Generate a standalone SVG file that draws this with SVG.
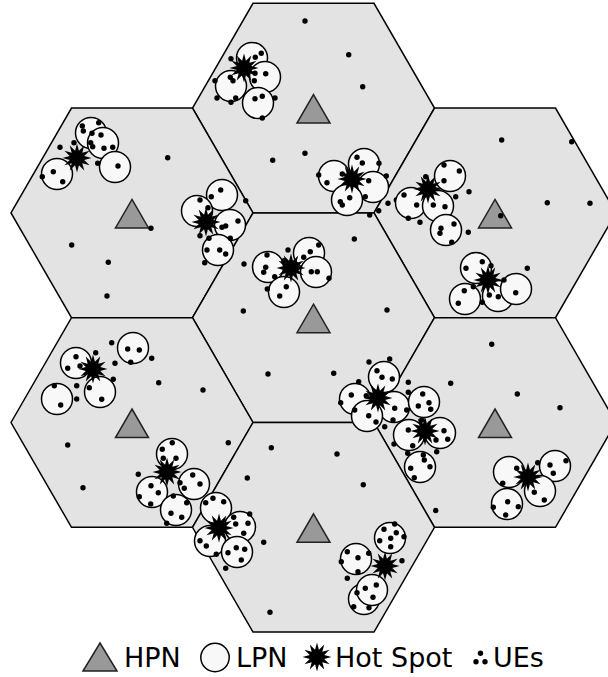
<svg xmlns="http://www.w3.org/2000/svg" xmlns:xlink="http://www.w3.org/1999/xlink" width="608" height="677" viewBox="0 0 608 677">
<style>
.hex{fill:#e3e3e3;stroke:#000;stroke-width:1.5}
.hpn{fill:#999;stroke:#222;stroke-width:1.5;stroke-linejoin:miter}
.lpn{fill:#f8f8f8;stroke:#000;stroke-width:1.5}
.ue{fill:#000}
.hs{fill:#000}
.lbl{font-family:"DejaVu Sans",sans-serif;font-size:27px;fill:#000}
</style>
<defs>
<path id="hexp" d="M-121,0 L-60.5,-104.8 L60.5,-104.8 L121,0 L60.5,104.8 L-60.5,104.8 Z"/>
<path id="tri" d="M0,-13.5 L16.5,15 L-16.5,15 Z"/>
<path id="star" d="M0,-14.5 L1.94,-7.24 L7.25,-12.56 L5.3,-5.3 L12.56,-7.25 L7.24,-1.94 L14.5,0 L7.24,1.94 L12.56,7.25 L5.3,5.3 L7.25,12.56 L1.94,7.24 L0,14.5 L-1.94,7.24 L-7.25,12.56 L-5.3,5.3 L-12.56,7.25 L-7.24,1.94 L-14.5,0 L-7.24,-1.94 L-12.56,-7.25 L-5.3,-5.3 L-7.25,-12.56 L-1.94,-7.24 Z"/>
</defs>

<g id="cells">
<g id="cell-top"><use href="#hexp" class="hex" x="313.5" y="108.1"/><use href="#tri" class="hpn" x="313.5" y="108.1"/></g>
<g id="cell-upper-left"><use href="#hexp" class="hex" x="132" y="212.9"/><use href="#tri" class="hpn" x="132" y="212.9"/></g>
<g id="cell-upper-right"><use href="#hexp" class="hex" x="495" y="212.9"/><use href="#tri" class="hpn" x="495" y="212.9"/></g>
<g id="cell-center"><use href="#hexp" class="hex" x="313.5" y="317.7"/><use href="#tri" class="hpn" x="313.5" y="317.7"/></g>
<g id="cell-lower-left"><use href="#hexp" class="hex" x="132" y="422.5"/><use href="#tri" class="hpn" x="132" y="422.5"/></g>
<g id="cell-lower-right"><use href="#hexp" class="hex" x="495" y="422.5"/><use href="#tri" class="hpn" x="495" y="422.5"/></g>
<g id="cell-bottom"><use href="#hexp" class="hex" x="313.5" y="527.3"/><use href="#tri" class="hpn" x="313.5" y="527.3"/></g>
</g>

<g id="hotspot-A">
<circle class="lpn" cx="252" cy="58" r="15.5"/><circle class="lpn" cx="231" cy="86" r="15.5"/><circle class="lpn" cx="265" cy="77" r="15.5"/><circle class="lpn" cx="258" cy="103" r="15.5"/>
<g class="ue"><circle cx="261.3" cy="53.3" r="2.7"/><circle cx="255.3" cy="57.3" r="2.7"/><circle cx="231" cy="58.7" r="2.7"/><circle cx="265.7" cy="73.7" r="2.7"/><circle cx="255" cy="73.3" r="2.7"/><circle cx="254.3" cy="80.7" r="2.7"/><circle cx="230.3" cy="77.3" r="2.7"/><circle cx="233" cy="80.7" r="2.7"/><circle cx="215" cy="80.7" r="2.7"/><circle cx="217" cy="98" r="2.7"/><circle cx="231" cy="102.3" r="2.7"/><circle cx="235.7" cy="98" r="2.7"/><circle cx="255" cy="98.7" r="2.7"/><circle cx="262.3" cy="96.3" r="2.7"/><circle cx="275" cy="98" r="2.7"/><circle cx="262.3" cy="118" r="2.7"/></g>
<use href="#star" class="hs" x="244" y="68"/>
</g>

<g id="hotspot-B">
<circle class="lpn" cx="334" cy="176" r="15.5"/><circle class="lpn" cx="364" cy="164" r="15.5"/><circle class="lpn" cx="373" cy="187" r="15.5"/><circle class="lpn" cx="347" cy="200" r="15.5"/>
<g class="ue"><circle cx="357" cy="157.3" r="2.7"/><circle cx="362.3" cy="163" r="2.7"/><circle cx="379" cy="163.3" r="2.7"/><circle cx="318.7" cy="175" r="2.7"/><circle cx="327" cy="182.7" r="2.7"/><circle cx="342.3" cy="174" r="2.7"/><circle cx="340.3" cy="201.7" r="2.7"/><circle cx="342.3" cy="205" r="2.7"/><circle cx="349.7" cy="197.7" r="2.7"/><circle cx="368.7" cy="180.7" r="2.7"/><circle cx="365.3" cy="196.7" r="2.7"/><circle cx="386.3" cy="176" r="2.7"/><circle cx="388" cy="203.3" r="2.7"/><circle cx="378.7" cy="210.7" r="2.7"/><circle cx="369.7" cy="215" r="2.7"/><circle cx="396.3" cy="200" r="2.7"/></g>
<use href="#star" class="hs" x="352" y="179"/>
</g>

<g id="hotspot-C">
<circle class="lpn" cx="450" cy="176" r="15.5"/><circle class="lpn" cx="411" cy="203" r="15.5"/><circle class="lpn" cx="438" cy="206" r="15.5"/><circle class="lpn" cx="446" cy="230" r="15.5"/>
<g class="ue"><circle cx="444" cy="165" r="2.7"/><circle cx="425.7" cy="176.7" r="2.7"/><circle cx="444" cy="180.7" r="2.7"/><circle cx="459.3" cy="171" r="2.7"/><circle cx="416.7" cy="205" r="2.7"/><circle cx="433.3" cy="205" r="2.7"/><circle cx="445" cy="206.7" r="2.7"/><circle cx="408.3" cy="218.3" r="2.7"/><circle cx="420" cy="222.3" r="2.7"/><circle cx="441" cy="228.3" r="2.7"/><circle cx="440" cy="233.3" r="2.7"/><circle cx="454" cy="224" r="2.7"/><circle cx="451.7" cy="242.3" r="2.7"/><circle cx="469" cy="191.7" r="2.7"/><circle cx="455.7" cy="196.7" r="2.7"/><circle cx="468.3" cy="232.3" r="2.7"/><circle cx="404" cy="195" r="2.7"/></g>
<use href="#star" class="hs" x="428" y="189"/>
</g>

<g id="hotspot-D">
<circle class="lpn" cx="498" cy="296" r="15.5"/><circle class="lpn" cx="476" cy="268" r="15.5"/><circle class="lpn" cx="516" cy="289" r="15.5"/><circle class="lpn" cx="465" cy="299" r="15.5"/>
<g class="ue"><circle cx="482.3" cy="261.7" r="2.7"/><circle cx="466" cy="268.3" r="2.7"/><circle cx="491" cy="265.7" r="2.7"/><circle cx="504" cy="280" r="2.7"/><circle cx="464.3" cy="290.7" r="2.7"/><circle cx="473.3" cy="286.7" r="2.7"/><circle cx="489.3" cy="295" r="2.7"/><circle cx="498.3" cy="296.7" r="2.7"/><circle cx="515.7" cy="292.7" r="2.7"/><circle cx="458.3" cy="303.3" r="2.7"/><circle cx="482.3" cy="302.3" r="2.7"/><circle cx="527.3" cy="268.3" r="2.7"/></g>
<use href="#star" class="hs" x="488" y="280"/>
</g>

<g id="hotspot-E">
<circle class="lpn" cx="91" cy="133" r="15.5"/><circle class="lpn" cx="103" cy="143" r="15.5"/><circle class="lpn" cx="115" cy="167" r="15.5"/><circle class="lpn" cx="57" cy="174" r="15.5"/>
<g class="ue"><circle cx="82.3" cy="126" r="2.7"/><circle cx="83.3" cy="131" r="2.7"/><circle cx="98.7" cy="122.7" r="2.7"/><circle cx="101" cy="135" r="2.7"/><circle cx="90.7" cy="142.7" r="2.7"/><circle cx="92.7" cy="146.7" r="2.7"/><circle cx="104" cy="148.3" r="2.7"/><circle cx="112.7" cy="147.3" r="2.7"/><circle cx="92" cy="133.3" r="2.7"/><circle cx="97.7" cy="163.3" r="2.7"/><circle cx="118" cy="166" r="2.7"/><circle cx="60" cy="147.3" r="2.7"/><circle cx="74" cy="142.7" r="2.7"/><circle cx="53.3" cy="171.7" r="2.7"/><circle cx="62.7" cy="181.7" r="2.7"/><circle cx="42.3" cy="176.7" r="2.7"/></g>
<use href="#star" class="hs" x="77" y="158"/>
</g>

<g id="hotspot-F">
<circle class="lpn" cx="222" cy="195" r="15.5"/><circle class="lpn" cx="197" cy="211" r="15.5"/><circle class="lpn" cx="230" cy="225" r="15.5"/><circle class="lpn" cx="218" cy="250" r="15.5"/>
<g class="ue"><circle cx="211.3" cy="196.7" r="2.7"/><circle cx="220.7" cy="190" r="2.7"/><circle cx="238" cy="221" r="2.7"/><circle cx="225.7" cy="226" r="2.7"/><circle cx="222" cy="227.3" r="2.7"/><circle cx="208" cy="207.7" r="2.7"/><circle cx="209" cy="238.3" r="2.7"/><circle cx="230.3" cy="238.3" r="2.7"/><circle cx="207" cy="250" r="2.7"/><circle cx="219.7" cy="250" r="2.7"/><circle cx="225.7" cy="254" r="2.7"/><circle cx="204.7" cy="262.7" r="2.7"/><circle cx="200" cy="200" r="2.7"/><circle cx="200" cy="235.7" r="2.7"/></g>
<use href="#star" class="hs" x="206" y="222"/>
</g>

<g id="hotspot-G">
<circle class="lpn" cx="309" cy="253" r="15.5"/><circle class="lpn" cx="268" cy="267" r="15.5"/><circle class="lpn" cx="316" cy="272" r="15.5"/><circle class="lpn" cx="284" cy="292" r="15.5"/>
<g class="ue"><circle cx="288" cy="250" r="2.7"/><circle cx="318.7" cy="245" r="2.7"/><circle cx="310.3" cy="251.7" r="2.7"/><circle cx="303.7" cy="257.3" r="2.7"/><circle cx="267" cy="255" r="2.7"/><circle cx="265.7" cy="267.3" r="2.7"/><circle cx="263.7" cy="272.3" r="2.7"/><circle cx="284" cy="260.7" r="2.7"/><circle cx="274.7" cy="276.7" r="2.7"/><circle cx="267.3" cy="289" r="2.7"/><circle cx="286.3" cy="286.7" r="2.7"/><circle cx="279.7" cy="296" r="2.7"/><circle cx="311.3" cy="271.7" r="2.7"/><circle cx="317.3" cy="271.7" r="2.7"/><circle cx="329" cy="278.3" r="2.7"/></g>
<use href="#star" class="hs" x="291" y="268"/>
</g>

<g id="hotspot-H">
<circle class="lpn" cx="133" cy="348" r="15.5"/><circle class="lpn" cx="76" cy="363" r="15.5"/><circle class="lpn" cx="100" cy="392" r="15.5"/><circle class="lpn" cx="57" cy="399" r="15.5"/>
<g class="ue"><circle cx="111.7" cy="342.7" r="2.7"/><circle cx="95.7" cy="352.7" r="2.7"/><circle cx="115" cy="363.3" r="2.7"/><circle cx="151.7" cy="358.3" r="2.7"/><circle cx="127.7" cy="349" r="2.7"/><circle cx="139.3" cy="350" r="2.7"/><circle cx="130.7" cy="362.3" r="2.7"/><circle cx="76" cy="356.7" r="2.7"/><circle cx="67.7" cy="368.3" r="2.7"/><circle cx="80" cy="366" r="2.7"/><circle cx="113.3" cy="379.3" r="2.7"/><circle cx="76.7" cy="385.7" r="2.7"/><circle cx="89.3" cy="387.7" r="2.7"/><circle cx="76.7" cy="399" r="2.7"/><circle cx="101.7" cy="399.3" r="2.7"/><circle cx="54.3" cy="385.7" r="2.7"/><circle cx="60.7" cy="405" r="2.7"/></g>
<use href="#star" class="hs" x="93" y="369"/>
</g>

<g id="hotspot-I">
<circle class="lpn" cx="172" cy="454" r="15.5"/><circle class="lpn" cx="194" cy="484" r="15.5"/><circle class="lpn" cx="152" cy="492" r="15.5"/><circle class="lpn" cx="176" cy="510" r="15.5"/>
<g class="ue"><circle cx="172.3" cy="442.7" r="2.7"/><circle cx="162.3" cy="449.3" r="2.7"/><circle cx="163.3" cy="458.3" r="2.7"/><circle cx="176" cy="458.3" r="2.7"/><circle cx="192.7" cy="475" r="2.7"/><circle cx="180" cy="482.7" r="2.7"/><circle cx="184.3" cy="488.3" r="2.7"/><circle cx="200" cy="484" r="2.7"/><circle cx="151" cy="485.7" r="2.7"/><circle cx="158.3" cy="492.7" r="2.7"/><circle cx="139.3" cy="496.7" r="2.7"/><circle cx="150.7" cy="504" r="2.7"/><circle cx="173.3" cy="496" r="2.7"/><circle cx="186.7" cy="502.7" r="2.7"/><circle cx="171" cy="513.3" r="2.7"/><circle cx="181.7" cy="517.3" r="2.7"/><circle cx="166.7" cy="523.3" r="2.7"/><circle cx="138.3" cy="474.3" r="2.7"/></g>
<use href="#star" class="hs" x="167" y="472"/>
</g>

<g id="hotspot-J">
<circle class="lpn" cx="216" cy="508" r="15.5"/><circle class="lpn" cx="240" cy="527" r="15.5"/><circle class="lpn" cx="210" cy="541" r="15.5"/><circle class="lpn" cx="237" cy="552" r="15.5"/>
<g class="ue"><circle cx="213" cy="498.3" r="2.7"/><circle cx="223.7" cy="501.7" r="2.7"/><circle cx="205.7" cy="502.7" r="2.7"/><circle cx="249.7" cy="514" r="2.7"/><circle cx="233.7" cy="517.3" r="2.7"/><circle cx="248" cy="523.3" r="2.7"/><circle cx="235.7" cy="524" r="2.7"/><circle cx="243.7" cy="533.3" r="2.7"/><circle cx="206.3" cy="546" r="2.7"/><circle cx="216.3" cy="554.3" r="2.7"/><circle cx="228" cy="552.7" r="2.7"/><circle cx="236.3" cy="547.7" r="2.7"/><circle cx="244.7" cy="549.3" r="2.7"/><circle cx="241.3" cy="560" r="2.7"/><circle cx="200" cy="540.7" r="2.7"/><circle cx="225.7" cy="568.3" r="2.7"/></g>
<use href="#star" class="hs" x="219" y="528"/>
</g>

<g id="hotspot-K">
<circle class="lpn" cx="390" cy="538" r="15.5"/><circle class="lpn" cx="356" cy="559" r="15.5"/><circle class="lpn" cx="364" cy="599" r="15.5"/><circle class="lpn" cx="372" cy="590" r="15.5"/>
<g class="ue"><circle cx="394.7" cy="524" r="2.7"/><circle cx="384" cy="529.3" r="2.7"/><circle cx="396.3" cy="532.7" r="2.7"/><circle cx="379.7" cy="540.7" r="2.7"/><circle cx="390.7" cy="538.3" r="2.7"/><circle cx="404" cy="536.7" r="2.7"/><circle cx="390.7" cy="546.7" r="2.7"/><circle cx="402" cy="560.7" r="2.7"/><circle cx="347.3" cy="551.7" r="2.7"/><circle cx="368.7" cy="553.3" r="2.7"/><circle cx="358" cy="557.7" r="2.7"/><circle cx="341.3" cy="561.7" r="2.7"/><circle cx="358" cy="571.7" r="2.7"/><circle cx="347.3" cy="578.3" r="2.7"/><circle cx="376.3" cy="585" r="2.7"/><circle cx="365.3" cy="588.3" r="2.7"/><circle cx="357" cy="592.7" r="2.7"/><circle cx="373" cy="597.3" r="2.7"/><circle cx="353.7" cy="606.7" r="2.7"/><circle cx="369" cy="607.7" r="2.7"/></g>
<use href="#star" class="hs" x="385" y="566"/>
</g>

<g id="hotspot-L">
<circle class="lpn" cx="384" cy="377" r="15.5"/><circle class="lpn" cx="355" cy="399" r="15.5"/><circle class="lpn" cx="394" cy="407" r="15.5"/><circle class="lpn" cx="367" cy="416" r="15.5"/>
<g class="ue"><circle cx="369" cy="362" r="2.7"/><circle cx="389.7" cy="359" r="2.7"/><circle cx="377" cy="370.7" r="2.7"/><circle cx="382" cy="377.3" r="2.7"/><circle cx="392.3" cy="379" r="2.7"/><circle cx="358.7" cy="381.7" r="2.7"/><circle cx="351.3" cy="395" r="2.7"/><circle cx="366.3" cy="395.7" r="2.7"/><circle cx="340.7" cy="402.7" r="2.7"/><circle cx="354.7" cy="410" r="2.7"/><circle cx="368.7" cy="415.7" r="2.7"/><circle cx="376" cy="422" r="2.7"/><circle cx="394.7" cy="408.3" r="2.7"/><circle cx="393" cy="420" r="2.7"/><circle cx="384.7" cy="426.7" r="2.7"/><circle cx="394" cy="444" r="2.7"/><circle cx="408.3" cy="382.3" r="2.7"/><circle cx="408.3" cy="392.3" r="2.7"/><circle cx="406.7" cy="410" r="2.7"/></g>
<use href="#star" class="hs" x="378" y="398"/>
</g>

<g id="hotspot-M">
<circle class="lpn" cx="424" cy="402" r="15.5"/><circle class="lpn" cx="409" cy="435" r="15.5"/><circle class="lpn" cx="440" cy="433" r="15.5"/><circle class="lpn" cx="420" cy="467" r="15.5"/>
<g class="ue"><circle cx="422.7" cy="394" r="2.7"/><circle cx="418.3" cy="406" r="2.7"/><circle cx="429" cy="402.7" r="2.7"/><circle cx="430.7" cy="409.3" r="2.7"/><circle cx="421.7" cy="420" r="2.7"/><circle cx="408.3" cy="430" r="2.7"/><circle cx="444" cy="430.7" r="2.7"/><circle cx="436" cy="440" r="2.7"/><circle cx="447.7" cy="439.3" r="2.7"/><circle cx="412.7" cy="445.7" r="2.7"/><circle cx="423.3" cy="455" r="2.7"/><circle cx="436.7" cy="451.7" r="2.7"/><circle cx="407.7" cy="453.3" r="2.7"/><circle cx="424.3" cy="460" r="2.7"/><circle cx="410.7" cy="468.3" r="2.7"/><circle cx="430" cy="466.7" r="2.7"/><circle cx="414.3" cy="477.7" r="2.7"/></g>
<use href="#star" class="hs" x="425" y="431"/>
</g>

<g id="hotspot-N">
<circle class="lpn" cx="555" cy="466" r="15.5"/><circle class="lpn" cx="509" cy="472" r="15.5"/><circle class="lpn" cx="540" cy="491" r="15.5"/><circle class="lpn" cx="507" cy="504" r="15.5"/>
<g class="ue"><circle cx="516.7" cy="468.3" r="2.7"/><circle cx="502.7" cy="483.3" r="2.7"/><circle cx="537.7" cy="462.7" r="2.7"/><circle cx="550" cy="465" r="2.7"/><circle cx="566" cy="460.7" r="2.7"/><circle cx="553.3" cy="473.3" r="2.7"/><circle cx="534.3" cy="492.3" r="2.7"/><circle cx="544.3" cy="500" r="2.7"/><circle cx="507.7" cy="501.7" r="2.7"/><circle cx="518.3" cy="506.7" r="2.7"/><circle cx="493.3" cy="507.3" r="2.7"/><circle cx="505.7" cy="515" r="2.7"/></g>
<use href="#star" class="hs" x="528" y="477"/>
</g>

<g id="ues" class="ue">
<circle cx="305" cy="21" r="2.7"/><circle cx="348.7" cy="54.7" r="2.7"/><circle cx="362.7" cy="86.7" r="2.7"/><circle cx="305" cy="153.3" r="2.7"/><circle cx="272.7" cy="160.3" r="2.7"/>
<circle cx="167.7" cy="157.7" r="2.7"/><circle cx="151" cy="228.3" r="2.7"/><circle cx="71.7" cy="245" r="2.7"/><circle cx="108.3" cy="262.3" r="2.7"/><circle cx="107" cy="296" r="2.7"/>
<circle cx="501.7" cy="140" r="2.7"/><circle cx="571.7" cy="141.7" r="2.7"/><circle cx="547.3" cy="202.7" r="2.7"/><circle cx="590" cy="203.3" r="2.7"/><circle cx="500.7" cy="215.7" r="2.7"/>
<circle cx="244" cy="264" r="2.7"/><circle cx="243.3" cy="311" r="2.7"/><circle cx="354.3" cy="239" r="2.7"/><circle cx="387" cy="310" r="2.7"/><circle cx="245.7" cy="200.7" r="2.7"/><circle cx="268" cy="374" r="2.7"/><circle cx="333.7" cy="373.3" r="2.7"/>
<circle cx="158.7" cy="382.7" r="2.7"/><circle cx="203" cy="390" r="2.7"/><circle cx="67.7" cy="445" r="2.7"/><circle cx="83" cy="487.7" r="2.7"/><circle cx="228.3" cy="442.7" r="2.7"/><circle cx="247.3" cy="478" r="2.7"/>
<circle cx="491.7" cy="344.3" r="2.7"/><circle cx="450.7" cy="383.3" r="2.7"/><circle cx="517.3" cy="394" r="2.7"/><circle cx="560" cy="407.7" r="2.7"/><circle cx="435.7" cy="510.5" r="2.7"/>
<circle cx="271.3" cy="447.7" r="2.7"/><circle cx="337" cy="454" r="2.7"/><circle cx="363.3" cy="484.7" r="2.7"/><circle cx="263.7" cy="542.3" r="2.7"/><circle cx="270" cy="612.3" r="2.7"/>
</g>

<g id="legend">
<g id="legend-hpn"><path class="hpn" d="M100,643 L117,671 L83,671 Z"/><text class="lbl" x="124" y="667">HPN</text></g>
<g id="legend-lpn"><circle class="lpn" cx="215" cy="657.5" r="14.2"/><text class="lbl" x="236" y="667">LPN</text></g>
<g id="legend-hotspot"><use href="#star" class="hs" x="317" y="657"/><text class="lbl" x="335" y="667">Hot Spot</text></g>
<g id="legend-ue"><g class="ue"><circle cx="476" cy="661.7" r="2.7"/><circle cx="485" cy="661.7" r="2.7"/><circle cx="480.5" cy="653.3" r="2.7"/></g><text class="lbl" x="493" y="667">UEs</text></g>
</g>
</svg>
